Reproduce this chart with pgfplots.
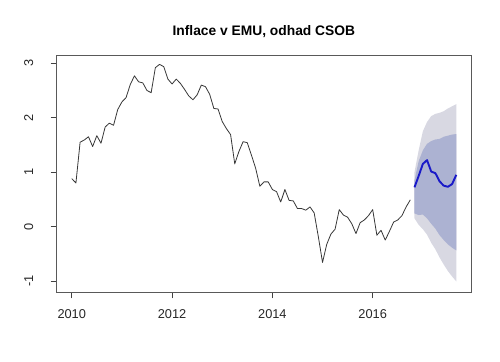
\documentclass[border=0pt]{standalone}
\usepackage{pgfplots}
\pgfplotsset{compat=1.18}
\usepackage{fontspec}
\setmainfont{Liberation Sans}
\definecolor{band95}{RGB}{216,216,226}
\definecolor{band80}{RGB}{172,178,210}
\definecolor{fc}{RGB}{25,25,200}
\definecolor{obs}{RGB}{55,55,55}
\begin{document}
\begin{tikzpicture}
\path[use as bounding box] (-56.7bp,-69.7bp) rectangle (443.3bp,292.3bp);
\begin{axis}[
  at={(0,0)}, anchor=south west,
  width=414.3bp, height=236.6bp, scale only axis,
  xmin=2009.70, xmax=2017.96, ymin=-1.21, ymax=3.14,
  xtick={2010,2012,2014,2016}, xticklabels={2010,2012,2014,2016},
  ytick={-1,0,1,2,3}, yticklabels={-1,0,1,2,3},
  xtick pos=left, ytick pos=left,
  tick align=outside, major tick length=6bp,
  every tick/.style={black!75, line width=0.6bp},
  axis line style={black!65, line width=0.7bp},
  xticklabel shift=7.5bp, yticklabel shift=14bp,
  xticklabel style={font=\fontsize{12.8bp}{14bp}\selectfont, text=black!85},
  yticklabel style={font=\fontsize{12.8bp}{14bp}\selectfont, text=black!85, rotate=90, anchor=south},
  title={Inflace v EMU, odhad CSOB},
  title style={font=\fontsize{13.8bp}{16bp}\selectfont\bfseries, anchor=base, at={(0.5,1)}, yshift=14bp},
]
\addplot[fill=band95, draw=none] coordinates {
(2016.8333,1.00) (2016.9167,1.40) (2017.0000,1.75) (2017.0833,1.92) (2017.1667,2.03) (2017.2500,2.07)
(2017.3333,2.09) (2017.4167,2.12) (2017.5000,2.17) (2017.5833,2.21) (2017.6667,2.25)
(2017.6667,-1.01) (2017.5833,-0.92) (2017.5000,-0.82) (2017.4167,-0.70) (2017.3333,-0.57) (2017.2500,-0.42)
(2017.1667,-0.30) (2017.0833,-0.15) (2017.0000,-0.05) (2016.9167,0.03) (2016.8333,0.15)
} -- cycle;
\addplot[fill=band80, draw=none] coordinates {
(2016.8333,0.85) (2016.9167,1.20) (2017.0000,1.40) (2017.0833,1.52) (2017.1667,1.57) (2017.2500,1.60)
(2017.3333,1.61) (2017.4167,1.65) (2017.5000,1.67) (2017.5833,1.69) (2017.6667,1.70)
(2017.6667,-0.44) (2017.5833,-0.39) (2017.5000,-0.33) (2017.4167,-0.25) (2017.3333,-0.16) (2017.2500,-0.04)
(2017.1667,0.05) (2017.0833,0.15) (2017.0000,0.22) (2016.9167,0.21) (2016.8333,0.24)
} -- cycle;
\addplot[obs, line width=0.8bp, line join=round] coordinates {
(2010.0000,0.88) (2010.0833,0.80) (2010.1667,1.55) (2010.2500,1.59) (2010.3333,1.65) (2010.4167,1.47)
(2010.5000,1.67) (2010.5833,1.53) (2010.6667,1.83) (2010.7500,1.90) (2010.8333,1.86) (2010.9167,2.15)
(2011.0000,2.29) (2011.0833,2.37) (2011.1667,2.61) (2011.2500,2.77) (2011.3333,2.66) (2011.4167,2.64)
(2011.5000,2.50) (2011.5833,2.46) (2011.6667,2.92) (2011.7500,2.98) (2011.8333,2.94) (2011.9167,2.71)
(2012.0000,2.62) (2012.0833,2.71) (2012.1667,2.63) (2012.2500,2.52) (2012.3333,2.40) (2012.4167,2.33)
(2012.5000,2.42) (2012.5833,2.60) (2012.6667,2.57) (2012.7500,2.43) (2012.8333,2.17) (2012.9167,2.16)
(2013.0000,1.93) (2013.0833,1.80) (2013.1667,1.69) (2013.2500,1.15) (2013.3333,1.38) (2013.4167,1.56)
(2013.5000,1.54) (2013.5833,1.31) (2013.6667,1.07) (2013.7500,0.74) (2013.8333,0.82) (2013.9167,0.82)
(2014.0000,0.68) (2014.0833,0.64) (2014.1667,0.45) (2014.2500,0.68) (2014.3333,0.48) (2014.4167,0.47)
(2014.5000,0.33) (2014.5833,0.33) (2014.6667,0.30) (2014.7500,0.36) (2014.8333,0.25) (2014.9167,-0.19)
(2015.0000,-0.66) (2015.0833,-0.33) (2015.1667,-0.14) (2015.2500,-0.05) (2015.3333,0.31) (2015.4167,0.21)
(2015.5000,0.17) (2015.5833,0.05) (2015.6667,-0.13) (2015.7500,0.07) (2015.8333,0.12) (2015.9167,0.20)
(2016.0000,0.31) (2016.0833,-0.16) (2016.1667,-0.07) (2016.2500,-0.25) (2016.3333,-0.09) (2016.4167,0.08)
(2016.5000,0.12) (2016.5833,0.20) (2016.6667,0.36) (2016.7500,0.49)
};
\addplot[fc, line width=1.9bp, line join=round] coordinates {
(2016.8333,0.72) (2016.9167,0.93) (2017.0000,1.15) (2017.0833,1.22) (2017.1667,1.01) (2017.2500,0.98)
(2017.3333,0.83) (2017.4167,0.75) (2017.5000,0.73) (2017.5833,0.78) (2017.6667,0.95)
};
\end{axis}
\end{tikzpicture}
\end{document}
